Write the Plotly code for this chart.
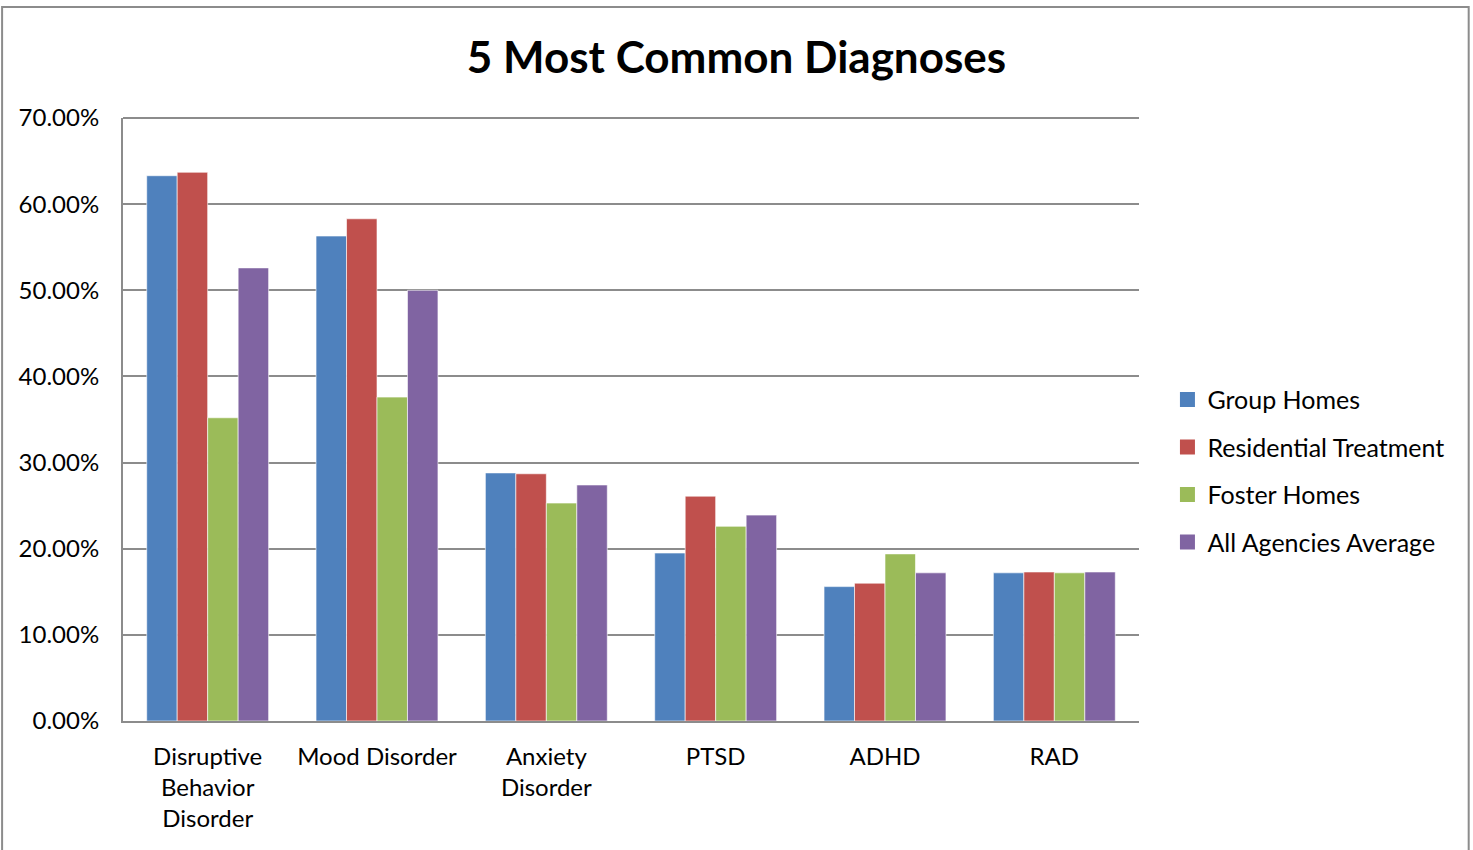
import plotly.graph_objects as go

categories = ["Disruptive<br>Behavior<br>Disorder", "Mood Disorder", "Anxiety<br>Disorder", "PTSD", "ADHD", "RAD"]
group_homes = [0.633, 0.563, 0.288, 0.195, 0.156, 0.172]
residential_treatment = [0.637, 0.583, 0.287, 0.261, 0.160, 0.173]
foster_homes = [0.352, 0.376, 0.253, 0.226, 0.194, 0.172]
all_agencies_average = [0.526, 0.500, 0.274, 0.239, 0.172, 0.173]

series = [
    ("Group Homes", group_homes, "#4F81BD"),
    ("Residential Treatment", residential_treatment, "#C0504D"),
    ("Foster Homes", foster_homes, "#9BBB59"),
    ("All Agencies Average", all_agencies_average, "#8064A2"),
]

FONT = "Lato, Calibri, sans-serif"
GRID = "#8C8C8C"

fig = go.Figure()
for i, (name, vals, color) in enumerate(series):
    fig.add_trace(go.Bar(
        x=categories, y=vals, name=name, legendgroup=str(i), showlegend=False,
        marker=dict(color=color, line=dict(color="rgba(255,255,255,0.6)", width=1)),
    ))
    # legend key: a larger square swatch than the default bar key
    fig.add_trace(go.Scatter(
        x=[None], y=[None], mode="markers", name=name, legendgroup=str(i),
        marker=dict(symbol="square", size=15, color=color),
    ))

fig.update_layout(
    width=1473, height=850,
    paper_bgcolor="white", plot_bgcolor="white",
    margin=dict(l=123, r=334, t=118, b=129),
    barmode="group", bargap=0.28, bargroupgap=0,
    title=dict(text="<b>5 Most Common Diagnoses</b>", x=0.5, xanchor="center",
               y=0.932, yanchor="middle", font=dict(family=FONT, size=44, color="black")),
    font=dict(family=FONT, size=24, color="black"),
    legend=dict(x=1.028, xanchor="left", y=0.415, yanchor="middle",
                font=dict(size=25), tracegroupgap=12, itemwidth=30),
    showlegend=True,
    shapes=[dict(type="rect", xref="paper", yref="paper", x0=-0.119, x1=1.3245, y0=-0.3, y1=1.184,
                 line=dict(color=GRID, width=2), layer="below"),
            dict(type="line", xref="paper", yref="paper", x0=0, x1=1, y0=1, y1=1,
                 line=dict(color=GRID, width=2))],
)
fig.update_yaxes(range=[0, 0.70], dtick=0.10, tickformat=".2%",
                 showgrid=True, gridcolor=GRID, gridwidth=2,
                 showline=True, linecolor=GRID, linewidth=2,
                 ticks="", ticklabelstandoff=17, zeroline=False)
fig.update_xaxes(showline=True, linecolor=GRID, linewidth=2, ticks="",
                 ticklabelstandoff=13)

fig.write_html("out.html")
